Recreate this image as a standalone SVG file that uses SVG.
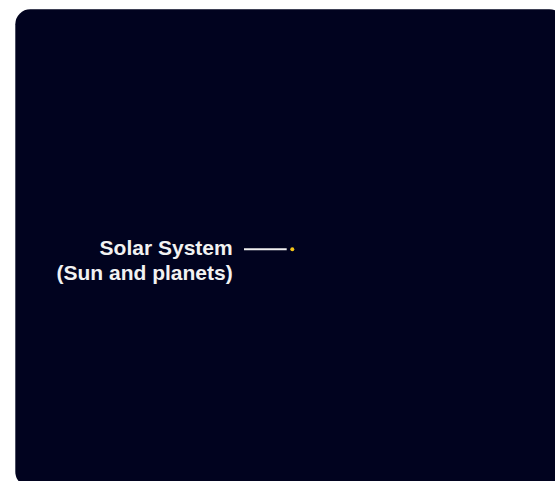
<svg xmlns="http://www.w3.org/2000/svg" width="555" height="481" viewBox="0 0 555 481">
<style>
.bg{fill:#01031f}
.lbl{font-family:"Liberation Sans",Arial,Helvetica,sans-serif;font-weight:bold;font-size:21px;fill:#f2f2f2;text-anchor:end}
.lead{stroke:#f0f0f0;stroke-width:2;fill:none}
.sun{fill:#f5c518}
</style>
<rect width="555" height="481" fill="#ffffff"/>
<rect class="bg" x="15.3" y="9.3" width="549" height="477.4" rx="15" ry="15"/>
<g id="connectors">
<line class="lead" x1="244" y1="249.3" x2="286.7" y2="249.3"/>
</g>
<g id="sun">
<circle class="sun" cx="292.3" cy="249.3" r="2"/>
</g>
<g id="label">
<text class="lbl" x="232.7" y="254.5">Solar System</text>
<text class="lbl" x="232.7" y="280">(Sun and planets)</text>
</g>
</svg>
